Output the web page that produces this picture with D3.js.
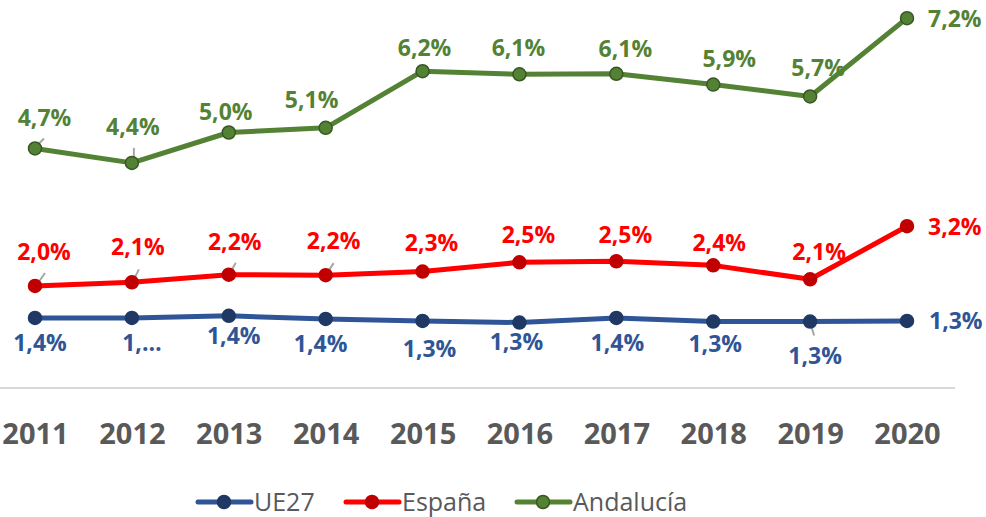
<!DOCTYPE html>
<html>
<head>
<meta charset="utf-8">
<script src="https://cdn.jsdelivr.net/npm/d3@7"></script>
<style>
  body { margin: 0; background: #fff; }
  text { font-family: "Open Sans", sans-serif; }
</style>
</head>
<body>
<script>
const years = ["2011", "2012", "2013", "2014", "2015", "2016", "2017", "2018", "2019", "2020"];
const ue27 = [1.40, 1.40, 1.44, 1.38, 1.34, 1.31, 1.40, 1.33, 1.33, 1.34];
const espana = [2.02, 2.09, 2.24, 2.23, 2.30, 2.48, 2.50, 2.42, 2.15, 3.18];
const andalucia = [4.69, 4.41, 5.00, 5.09, 6.19, 6.13, 6.14, 5.93, 5.70, 7.22];
const seriesNames = ["UE27", "España", "Andalucía"];
const ue27Truncated = [1]; // label cut off as "1,…" in the original

let width = 986;
let height = 517;

let svg = d3.select("body")
  .append("svg")
  .attr("width", width)
  .attr("height", height);

let xScale = d3.scalePoint()
  .domain(years)
  .range([35, 907]);

let yScale = d3.scaleLinear()
  .domain([0, 7.5])
  .range([390, 3.75]);

// label offsets (dx, dy) from each point, as placed by hand in the original
let offs = {
  "UE27": [[5, 33], [10, 33], [5, 28], [-5, 33], [7, 36], [-3, 27], [1, 33], [2, 30], [5, 42], [22, 8]],
  "España": [[9, -26], [6, -27], [6, -25], [8, -26], [9, -21], [9, -19], [9, -18], [6, -14], [9, -19], [21, 9]],
  "Andalucía": [[9.5, -22], [1, -28], [-3, -13], [-14, -20], [2, -15], [-1, -18], [9, -17], [16, -18], [8, -20], [21, 9]]
};

// leader lines: index -> [x1,y1,x2,y2] relative to point
let leaders = {
  "UE27": { 8: [1, 4, 4, 14] },
  "España": { 0: [3, -3, 10, -13], 1: [2, -3, 7, -13], 2: [2, -3, 7, -12], 3: [2, -3, 8, -12] },
  "Andalucía": { 0: [3, -4, 9, -10], 1: [2, -4, 2, -15] }
};

let series = [
  { name: "UE27", values: ue27, line: "#2f5597", marker: "#1f3864", label: "#2f5597" },
  { name: "España", values: espana, line: "#ff0000", marker: "#c00000", label: "#ff0000" },
  { name: "Andalucía", values: andalucia, line: "#548235", marker: "#548235", stroke: "#385723", label: "#548235" }
];

let fmt = d3.format(".1f");
let pct = (v) => fmt(v).replace(".", ",") + "%";

// baseline
svg.append("line")
  .attr("x1", 0)
  .attr("x2", 955)
  .attr("y1", yScale(0) - 2)
  .attr("y2", yScale(0) - 2)
  .attr("stroke", "#d9d9d9")
  .attr("stroke-width", 2);

// x axis labels
let xAxis = d3.axisBottom(xScale).tickSize(0).tickPadding(0);
let gx = svg.append("g")
  .attr("transform", "translate(0,420)")
  .call(xAxis);
gx.select(".domain").remove();
gx.selectAll("text")
  .attr("dy", "0.82em")
  .attr("fill", "#595959")
  .style("font-size", "29px")
  .style("font-weight", "700");

let line = d3.line()
  .x((d, i) => xScale(years[i]))
  .y((d) => yScale(d));

series.forEach((s) => {
  let g = svg.append("g");

  g.append("path")
    .datum(s.values)
    .attr("d", line)
    .attr("fill", "none")
    .attr("stroke", s.line)
    .attr("stroke-width", 5)
    .attr("stroke-linejoin", "round");

  let lead = leaders[s.name];
  Object.keys(lead).forEach((k) => {
    let i = +k;
    let px = xScale(years[i]);
    let py = yScale(s.values[i]);
    let l = lead[k];
    g.append("line")
      .attr("x1", px + l[0]).attr("y1", py + l[1])
      .attr("x2", px + l[2]).attr("y2", py + l[3])
      .attr("stroke", "#a6a6a6")
      .attr("stroke-width", 2);
  });

  g.selectAll("circle")
    .data(s.values)
    .join("circle")
    .attr("cx", (d, i) => xScale(years[i]))
    .attr("cy", (d) => yScale(d))
    .attr("r", 6.5)
    .attr("fill", s.marker)
    .attr("stroke", s.stroke || s.marker)
    .attr("stroke-width", 1.5);

  g.selectAll("text.lbl")
    .data(s.values)
    .join("text")
    .attr("class", "lbl")
    .attr("x", (d, i) => xScale(years[i]) + offs[s.name][i][0])
    .attr("y", (d, i) => yScale(d) + offs[s.name][i][1])
    .attr("text-anchor", (d, i) => i === years.length - 1 ? "start" : "middle")
    .attr("fill", s.label)
    .style("font-size", "23px")
    .style("font-weight", "700")
    .text((d, i) => (s.name === "UE27" && ue27Truncated.includes(i)) ? "1,…" : pct(d));
});

// legend
let legendX = [198, 346, 517];
let legend = svg.append("g").attr("transform", "translate(0,502)");
series.forEach((s, i) => {
  let lg = legend.append("g").attr("transform", "translate(" + legendX[i] + ",0)");
  lg.append("line")
    .attr("x1", 0).attr("x2", 53)
    .attr("stroke", s.line)
    .attr("stroke-width", 5)
    .attr("stroke-linecap", "round");
  lg.append("circle")
    .attr("cx", 26).attr("r", 6.5)
    .attr("fill", s.marker)
    .attr("stroke", s.stroke || s.marker)
    .attr("stroke-width", 1.5);
  lg.append("text")
    .attr("x", 56)
    .attr("y", 9)
    .attr("fill", "#595959")
    .style("font-size", "25px")
    .text(seriesNames[i]);
});
</script>
</body>
</html>
